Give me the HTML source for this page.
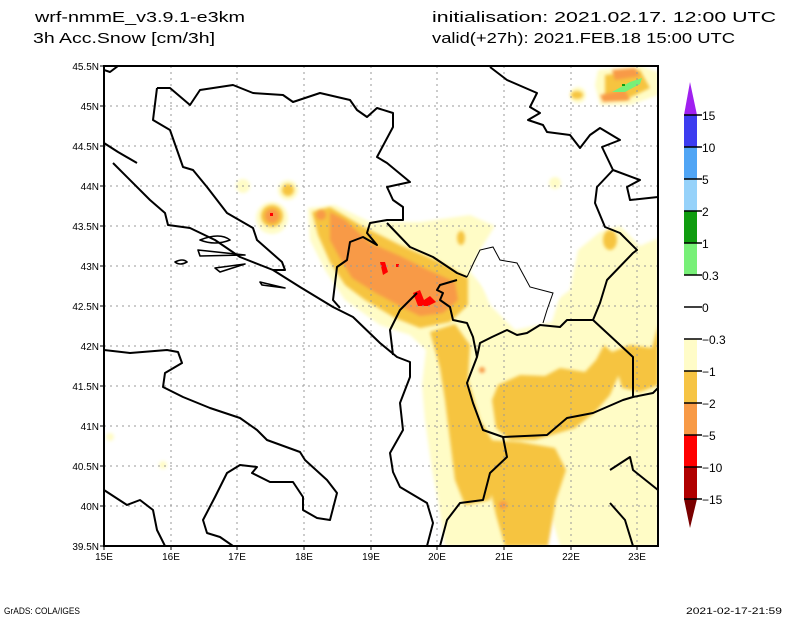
<!DOCTYPE html>
<html><head><meta charset="utf-8"><style>
html,body{margin:0;padding:0;background:#fff;}
svg{display:block;}
text{font-family:"Liberation Sans",sans-serif;fill:#000;}
</style></head><body>
<svg width="800" height="618" viewBox="0 0 800 618" xmlns="http://www.w3.org/2000/svg">
<rect width="800" height="618" fill="#fff"/>
<text x="35" y="22" font-size="15" textLength="210" lengthAdjust="spacingAndGlyphs">wrf-nmmE_v3.9.1-e3km</text>
<text x="33" y="43" font-size="15" textLength="182" lengthAdjust="spacingAndGlyphs">3h Acc.Snow [cm/3h]</text>
<text x="432" y="22" font-size="15" textLength="344" lengthAdjust="spacingAndGlyphs">initialisation: 2021.02.17.  12:00 UTC</text>
<text x="432" y="43" font-size="15" textLength="303" lengthAdjust="spacingAndGlyphs">valid(+27h): 2021.FEB.18 15:00 UTC</text>

<defs><clipPath id="c"><rect x="104" y="66" width="554" height="480"/></clipPath>
<filter id="b"><feGaussianBlur stdDeviation="1.5"/></filter></defs>
<g clip-path="url(#c)">
<g fill="#fffcc6" filter="url(#b)">
<path d="M308,208 L335,205 L370,222 L420,222 L470,215 L495,226 L480,250 L470,272 L495,300 L540,312 L570,290 L578,250 L600,232 L620,226 L640,246 L658,238 L658,546 L560,546 L548,505 L525,546 L445,546 L438,500 L432,470 L425,420 L422,385 L426,350 L410,335 L380,325 L345,300 L325,270 L310,240 Z"/>
<circle cx="243" cy="186" r="7"/><circle cx="288" cy="190" r="10"/><circle cx="272" cy="218" r="16"/>
<circle cx="555" cy="183" r="6"/><circle cx="460" cy="238" r="12"/>
<path d="M598,70 L640,66 L658,72 L658,95 L630,105 L600,105 L595,85 Z"/>
<circle cx="578" cy="95" r="8"/>
<circle cx="110" cy="437" r="4"/><circle cx="163" cy="465" r="4"/>
</g>
<path d="M482,252 L510,246 L540,262 L560,295 L552,322 L515,330 L490,305 L478,275 Z" fill="#fff" filter="url(#b)"/>
<g fill="#f6c440" filter="url(#b)">
<path d="M430,332 L455,324 L470,345 L468,380 L480,420 L492,440 L498,470 L490,500 L465,505 L455,480 L450,440 L445,400 L440,368 Z"/>
<path d="M498,385 L520,375 L545,376 L560,368 L585,372 L596,360 L604,345 L612,352 L620,372 L610,395 L595,412 L575,428 L555,434 L535,440 L510,440 L496,428 L492,400 Z"/>
<path d="M488,440 L520,442 L555,448 L566,470 L556,500 L548,546 L505,546 L496,515 L486,470 Z"/>
<path d="M612,352 L630,345 L652,348 L658,325 L658,385 L640,392 L622,388 Z"/>
<path d="M312,212 L330,207 L360,225 L400,245 L440,262 L468,278 L468,305 L450,322 L420,328 L395,318 L365,300 L345,285 L330,262 L318,235 Z"/>
<circle cx="288" cy="190" r="6"/><circle cx="272" cy="216" r="11"/>
<ellipse cx="461" cy="238" rx="4" ry="7"/><ellipse cx="610" cy="240" rx="7" ry="10"/>
<path d="M605,75 L640,70 L650,88 L625,100 L605,98 Z"/>
<ellipse cx="577" cy="95" rx="6" ry="4"/>
</g>
<g fill="#f89a46" filter="url(#b)">
<path d="M330,212 L345,220 L370,243 L400,256 L428,270 L455,282 L458,300 L443,313 L420,316 L400,306 L376,293 L352,278 L340,258 L330,240 Z"/>
<circle cx="272" cy="216" r="7"/><circle cx="321" cy="215" r="5"/>
<path d="M612,70 L635,68 L640,76 L615,80 Z"/><path d="M600,95 L625,90 L630,100 L603,102 Z"/>
<circle cx="503" cy="505" r="4"/><circle cx="482" cy="370" r="3"/>
</g>
<g fill="#ff0000">
<path d="M380,262 L385,262 L388,272 L383,275 Z"/>
<path d="M413,293 L420,290 L424,300 L430,296 L436,302 L428,306 L418,306 Z"/>
<rect x="270" y="213" width="3" height="3"/><rect x="396" y="264" width="3" height="3"/>
</g>
<path d="M612,92 L630,82 L642,78 L640,84 L625,92 Z" fill="#78f078"/>
<rect x="622" y="84" width="3" height="2" fill="#109c10"/>
<g stroke="#999" stroke-width="1" stroke-dasharray="2,4" fill="none">
<path d="M171,66V546M237,66V546M304,66V546M371,66V546M437,66V546M504,66V546M571,66V546M637,66V546"/>
<path d="M104,106H658M104,146H658M104,186H658M104,226H658M104,266H658M104,306H658M104,346H658M104,386H658M104,426H658M104,466H658M104,506H658"/>
</g>
<g stroke="#000" stroke-width="2" fill="none" stroke-linejoin="round">
<polyline points="157,88 170,88 190,105 200,90 233,85 253,93 283,95 293,102 320,93 350,100 357,110 367,117 377,108 393,113 393,127 377,157 387,163 410,182 387,187 393,200 403,207 403,220 387,220 370,223 367,233 377,245 363,237 350,242 347,260 337,267 333,300 340,308"/>
<polyline points="157,88 153,120 170,130 183,167 193,170 207,187 227,213 253,228 257,240 282,262 285,270 273,270"/>
<polyline points="104,143 118,152 137,163"/>
<polyline points="113,163 150,200 165,213 168,225 190,228 215,240 240,257 273,270 300,287 333,307 353,317 380,343 397,357 410,362 410,377 400,403 403,430 390,453 393,472 400,487 427,503 433,523 427,546"/>
<path d="M200,240 Q220,232 230,240 Q215,246 200,240Z M198,250 L245,255 L200,256Z M215,268 L245,264 L220,272Z M260,282 L285,288 L262,285Z M175,262 Q183,258 187,262 Q180,266 175,262Z" stroke-width="1.6"/>
<polyline points="387,223 410,247 433,257 457,273 467,277"/>
<polyline points="457,280 440,285 437,290 443,293 440,300 450,307 453,320 467,323 473,337 477,357 467,383 473,403 483,430 503,437 507,457 490,473 483,500 460,503 447,520 440,546"/>
<polyline points="417,293 400,310 390,330 393,355"/>
<polyline points="104,350 130,353 167,350 178,352 182,363 165,373 163,387 183,397 210,408 240,418 257,430 267,440 300,452 305,460 327,480 337,493 330,520 317,518 303,510 303,497 293,482 270,482 252,473 257,467 240,465 227,473 215,497 203,520 207,533 220,537 233,546"/>
<polyline points="104,490 127,505 140,500 153,510 157,530 165,546"/>
<polyline points="490,67 507,80 537,93 530,107 540,113 528,120 543,125 547,132 570,135 580,148 590,135 600,128 620,140 602,147 613,170 640,180 627,187 630,200 658,197"/>
<polyline points="613,170 597,187 595,203 605,227 620,233 637,250 633,253 607,280 600,303 593,320 633,357 633,397 653,393 658,388"/>
<polyline points="593,320 567,320 560,327 540,325 527,333 517,335 507,330 492,337 480,343 477,357"/>
<polyline points="503,437 547,435 567,418 593,413 623,400 633,397"/>
<polyline points="610,470 630,457 633,470 658,490"/>
<polyline points="610,503 625,520 633,546"/>
<polyline points="104,70 110,72 118,66"/>
</g>
<polyline points="467,277 474,262 480,250 493,247 500,260 517,263 530,287 553,293 547,310 543,323" stroke="#000" stroke-width="1" fill="none"/>
</g>
<rect x="104" y="66" width="554" height="480" fill="none" stroke="#000" stroke-width="2"/>
<g stroke="#000" stroke-width="1">
<path d="M100,66H104M100,106H104M100,146H104M100,186H104M100,226H104M100,266H104M100,306H104M100,346H104M100,386H104M100,426H104M100,466H104M100,506H104M100,546H104"/>
<path d="M104,546V550M171,546V550M237,546V550M304,546V550M371,546V550M437,546V550M504,546V550M571,546V550M637,546V550"/>
</g>
<g font-size="10" text-anchor="end">
<text x="99" y="70">45.5N</text><text x="99" y="110">45N</text><text x="99" y="150">44.5N</text><text x="99" y="190">44N</text><text x="99" y="230">43.5N</text><text x="99" y="270">43N</text><text x="99" y="310">42.5N</text><text x="99" y="350">42N</text><text x="99" y="390">41.5N</text><text x="99" y="430">41N</text><text x="99" y="470">40.5N</text><text x="99" y="510">40N</text><text x="99" y="550">39.5N</text>
</g>
<g font-size="10" text-anchor="middle">
<text x="104" y="560">15E</text><text x="171" y="560">16E</text><text x="237" y="560">17E</text><text x="304" y="560">18E</text><text x="371" y="560">19E</text><text x="437" y="560">20E</text><text x="504" y="560">21E</text><text x="571" y="560">22E</text><text x="637" y="560">23E</text>
</g>
<polygon points="684,115 690,82 697,115" fill="#a020f0"/>
<rect x="684" y="115" width="13" height="32" fill="#3c3cf0"/>
<rect x="684" y="147" width="13" height="32" fill="#50a5f5"/>
<rect x="684" y="179" width="13" height="32" fill="#96d2fa"/>
<rect x="684" y="211" width="13" height="32" fill="#0f9c0f"/>
<rect x="684" y="243" width="13" height="32" fill="#78f078"/>
<rect x="684" y="275" width="13" height="64" fill="#fff"/>
<rect x="684" y="339" width="13" height="32" fill="#fffcc8"/>
<rect x="684" y="371" width="13" height="32" fill="#f6c444"/>
<rect x="684" y="403" width="13" height="32" fill="#f89a46"/>
<rect x="684" y="435" width="13" height="32" fill="#ff0000"/>
<rect x="684" y="467" width="13" height="32" fill="#b00000"/>
<polygon points="684,499 690,528 697,499" fill="#7a0000"/>
<g stroke="#000" stroke-width="1.5">
<path d="M684,147H702M684,179H702M684,211H702M684,243H702M684,275H702M684,307H702M684,339H702M684,371H702M684,403H702M684,435H702M684,467H702M684,499H702M684,115H702"/>
</g>
<g font-size="12">
<text x="702" y="120">15</text><text x="702" y="152">10</text><text x="702" y="184">5</text><text x="702" y="216">2</text><text x="702" y="248">1</text><text x="702" y="280">0.3</text><text x="702" y="312">0</text><text x="702" y="344">−0.3</text><text x="702" y="376">−1</text><text x="702" y="408">−2</text><text x="702" y="440">−5</text><text x="702" y="472">−10</text><text x="702" y="504">−15</text>
</g>
<text x="4" y="614" font-size="9" textLength="76" lengthAdjust="spacingAndGlyphs">GrADS: COLA/IGES</text>
<text x="686" y="614" font-size="9" textLength="96" lengthAdjust="spacingAndGlyphs">2021-02-17-21:59</text>
</svg>
</body></html>
